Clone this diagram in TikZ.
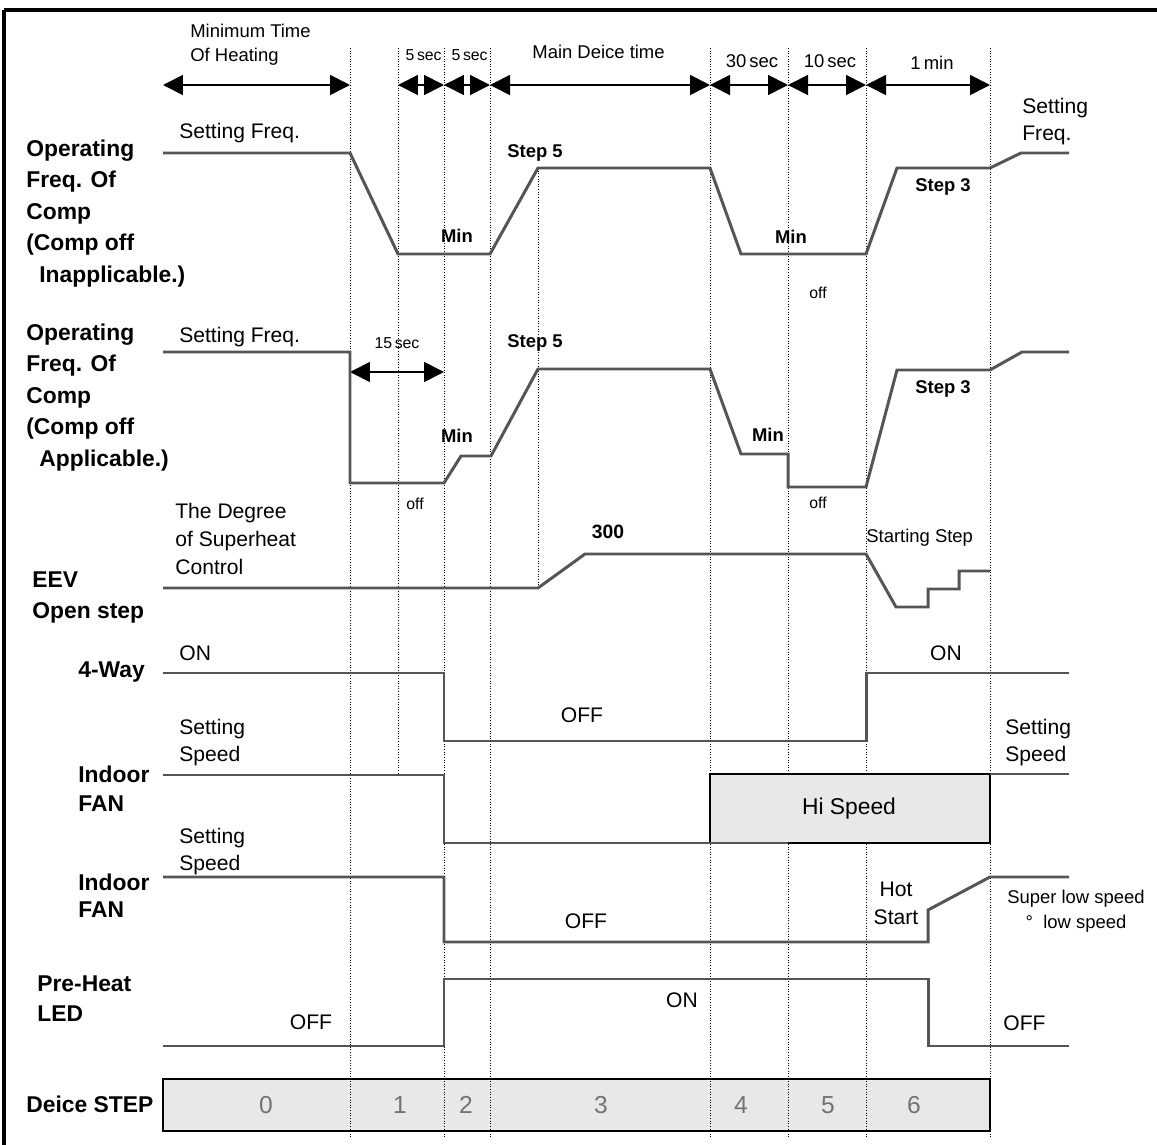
\documentclass[tikz,border=0pt]{standalone}
\usepackage{fontspec}
\setmainfont{Liberation Sans}
\usetikzlibrary{arrows.meta, positioning}
\definecolor{wave}{RGB}{85,85,85}
\definecolor{boxgray}{RGB}{232,232,234}

\begin{document}
\begin{tikzpicture}[
    x=0.02cm, y=-0.02cm,
    sig/.style={draw=wave, line width=1.7pt},
    guide/.style={densely dotted, line width=0.5pt},
    dur/.style={{Triangle[length=0.4cm,width=0.4cm]}-{Triangle[length=0.4cm,width=0.4cm]},
                line width=1pt},
    lbl/.style={font=\fontsize{13}{17.9}\selectfont\bfseries, align=left,
                anchor=north west, inner sep=0pt},
    txt/.style={font=\fontsize{12}{15.3}\selectfont, inner sep=0pt},
    hdr/.style={font=\fontsize{10.5}{13.6}\selectfont, inner sep=0pt},
    note/.style={font=\fontsize{9}{11}\selectfont, inner sep=0pt},
    lvl/.style={font=\fontsize{10.5}{12}\selectfont\bfseries, inner sep=0pt}
  ]
  \useasboundingbox (0,0) rectangle (1157,1145);
  \draw[line width=2.3pt] (4,10) -- (1157,10);
  \draw[line width=1.8pt] (4,10) -- (4,1145);

  % step box
  \draw[fill=boxgray, line width=0.9pt] (163,1079) rectangle (990,1131);

  % time marks
  \foreach \x in {350,444,490,710,788,866,990} {
    \draw[guide] (\x,48) -- (\x,1137);
  }
  \draw[guide] (398,48) -- (398,775);
  \draw[guide] (538,168) -- (538,588);

  \foreach \n/\x in {0/163,1/350,2/398,3/444,4/490,5/710,6/788,7/866,8/990} {
    \coordinate (a\n) at (\x,85);
  }
  \foreach \i/\j in {0/1,2/3,3/4,4/5,5/6,6/7,7/8} {
    \draw[dur] (a\i) -- (a\j);
  }
  \coordinate (b0) at (350,372);
  \coordinate (b1) at (444,372);
  \draw[dur] (b0) -- (b1);

  \node[hdr, align=left, anchor=north west] (hmin) at (190,24) {Minimum Time\\Of Heating};
  \node[note, anchor=east] (h5a) at (442,55) {5\,sec};
  \node[note, anchor=east] (h5b) at (488,55) {5\,sec};
  \node[hdr, anchor=east] (hmain) at (665,52) {Main Deice time};
  \node[hdr] (h30) at (752,61) {30\,sec};
  \node[hdr] (h10) at (830,61) {10\,sec};
  \node[hdr] (h1m) at (932,63) {1\,min};
  \node[note] (h15) at (397,343) {15\,sec};

  % hi speed box, over the time marks
  \draw[fill=boxgray, line width=0.9pt] (710,774) rectangle (990,843);
  \node[font=\fontsize{13}{15}\selectfont] (hi) at (849,809) {Hi Speed};

  % signals
  \draw[sig] (163,153) -- (350,153) -- (398,254) -- (490,254) -- (538,168)
    -- (710,168) -- (741,254) -- (866,254) -- (897,168) -- (990,168)
    -- (1021,153) -- (1069,153);
  \draw[sig] (163,352) -- (350,352) -- (350,483) -- (444,483) -- (461,456)
    -- (491,456) -- (538,369) -- (710,369) -- (741,454) -- (788,454)
    -- (788,487) -- (866,487) -- (897,370) -- (990,370) -- (1022,352)
    -- (1069,352);
  \draw[sig] (163,588) -- (538,588) -- (585,554) -- (866,554) -- (896,607)
    -- (928,607) -- (928,589) -- (959,589) -- (959,571) -- (990,571);
  \draw[sig] (163,673) -- (444,673) -- (444,741) -- (866,741) -- (866,673)
    -- (1069,673);
  \draw[sig] (163,775) -- (444,775) -- (444,843) -- (788,843);
  \draw[sig] (990,774) -- (1069,774);
  \draw[sig] (163,877) -- (444,877) -- (444,942) -- (928,942) -- (928,910)
    -- (990,877) -- (1069,877);
  \draw[sig] (163,1046) -- (444,1046) -- (444,979) -- (928,979) -- (928,1046)
    -- (1069,1046);

  % row names
  \node[lbl] (nop1) at (26,139.5)
    {Operating\\Freq. Of\\Comp\\(Comp off\\\hspace*{0.26cm}Inapplicable.)};
  \node[lbl] (nop2) at (26,323.5)
    {Operating\\Freq. Of\\Comp\\(Comp off\\\hspace*{0.26cm}Applicable.)};
  \node[lbl, font=\fontsize{13}{17.6}\selectfont\bfseries] (neev) at (32,571.5) {EEV\\Open step};
  \node[lbl, anchor=west] (nway) at (78,672) {4-Way};
  \node[lbl, font=\fontsize{13}{16.4}\selectfont\bfseries] (nfan1) at (78,765.5) {Indoor\\FAN};
  \node[lbl, font=\fontsize{13}{15.5}\selectfont\bfseries] (nfan2) at (78,873.5) {Indoor\\FAN};
  \node[lbl, font=\fontsize{13}{17}\selectfont\bfseries] (nled) at (37,975.5) {Pre-Heat\\LED};
  \node[lbl, anchor=west] (nstep) at (26,1104) {Deice STEP};

  % operating freq, comp off inapplicable
  \node[txt, anchor=west] (f1set) at (179,133) {Setting Freq.};
  \node[lvl] (f1s5) at (535,153) {Step 5};
  \node[lvl] (f1min) at (457,236) {Min};
  \node[lvl] (f1minb) at (791,237) {Min};
  \node[note] (f1off) at (818,293) {off};
  \node[lvl] (f1s3) at (943,187) {Step 3};
  \node[txt, align=left, anchor=north west] (f1end) at (1022,98) {Setting\\Freq.};

  % operating freq, comp off applicable
  \node[txt, anchor=west] (f2set) at (179,337) {Setting Freq.};
  \node[lvl] (f2s5) at (535,343) {Step 5};
  \node[lvl] (f2min) at (457,436) {Min};
  \node[note] (f2off) at (415,504) {off};
  \node[lvl] (f2minb) at (768,435) {Min};
  \node[note] (f2offb) at (818,503) {off};
  \node[lvl] (f2s3) at (943,389) {Step 3};

  % eev
  \node[txt, font=\fontsize{12}{15.9}\selectfont, align=left, anchor=north west] (edeg)
    at (175,503) {The Degree\\of Superheat\\Control};
  \node[font=\fontsize{11}{13}\selectfont\bfseries, inner sep=0pt] (e300) at (608,532) {300};
  \node[hdr, anchor=west] (estart) at (866,538) {Starting Step};

  % 4-way and fans
  \node[txt, anchor=west] (won) at (179,653) {ON};
  \node[txt] (woff) at (582,715) {OFF};
  \node[txt] (won2) at (946,653) {ON};
  \node[txt, align=left, anchor=north west] (fset1) at (179,719) {Setting\\Speed};
  \node[txt, align=left, anchor=north west] (fset1b) at (1005,719) {Setting\\Speed};
  \node[txt, align=left, anchor=north west] (fset2) at (179,828) {Setting\\Speed};
  \node[txt] (foff) at (586,921) {OFF};
  \node[txt, font=\fontsize{12}{15.9}\selectfont, align=center, anchor=north] (fhot)
    at (896,882) {Hot\\Start};
  \node[hdr, font=\fontsize{10.5}{14.2}\selectfont, align=center, anchor=north] (fslow)
    at (1076,890) {Super low speed\\°\ \ low speed};

  % pre-heat led
  \node[txt] (loff) at (311,1022) {OFF};
  \node[txt] (lon) at (682,1000) {ON};
  \node[txt, anchor=west] (loff2) at (1003,1023) {OFF};

  % deice steps
  \foreach \x/\v in {266/0, 400/1, 466/2, 601/3, 741/4, 828/5, 914/6} {
    \node[font=\fontsize{14}{16}\selectfont, text=black!55, inner sep=0pt] (s\v) at (\x,1105) {\v};
  }
\end{tikzpicture}
\end{document}
